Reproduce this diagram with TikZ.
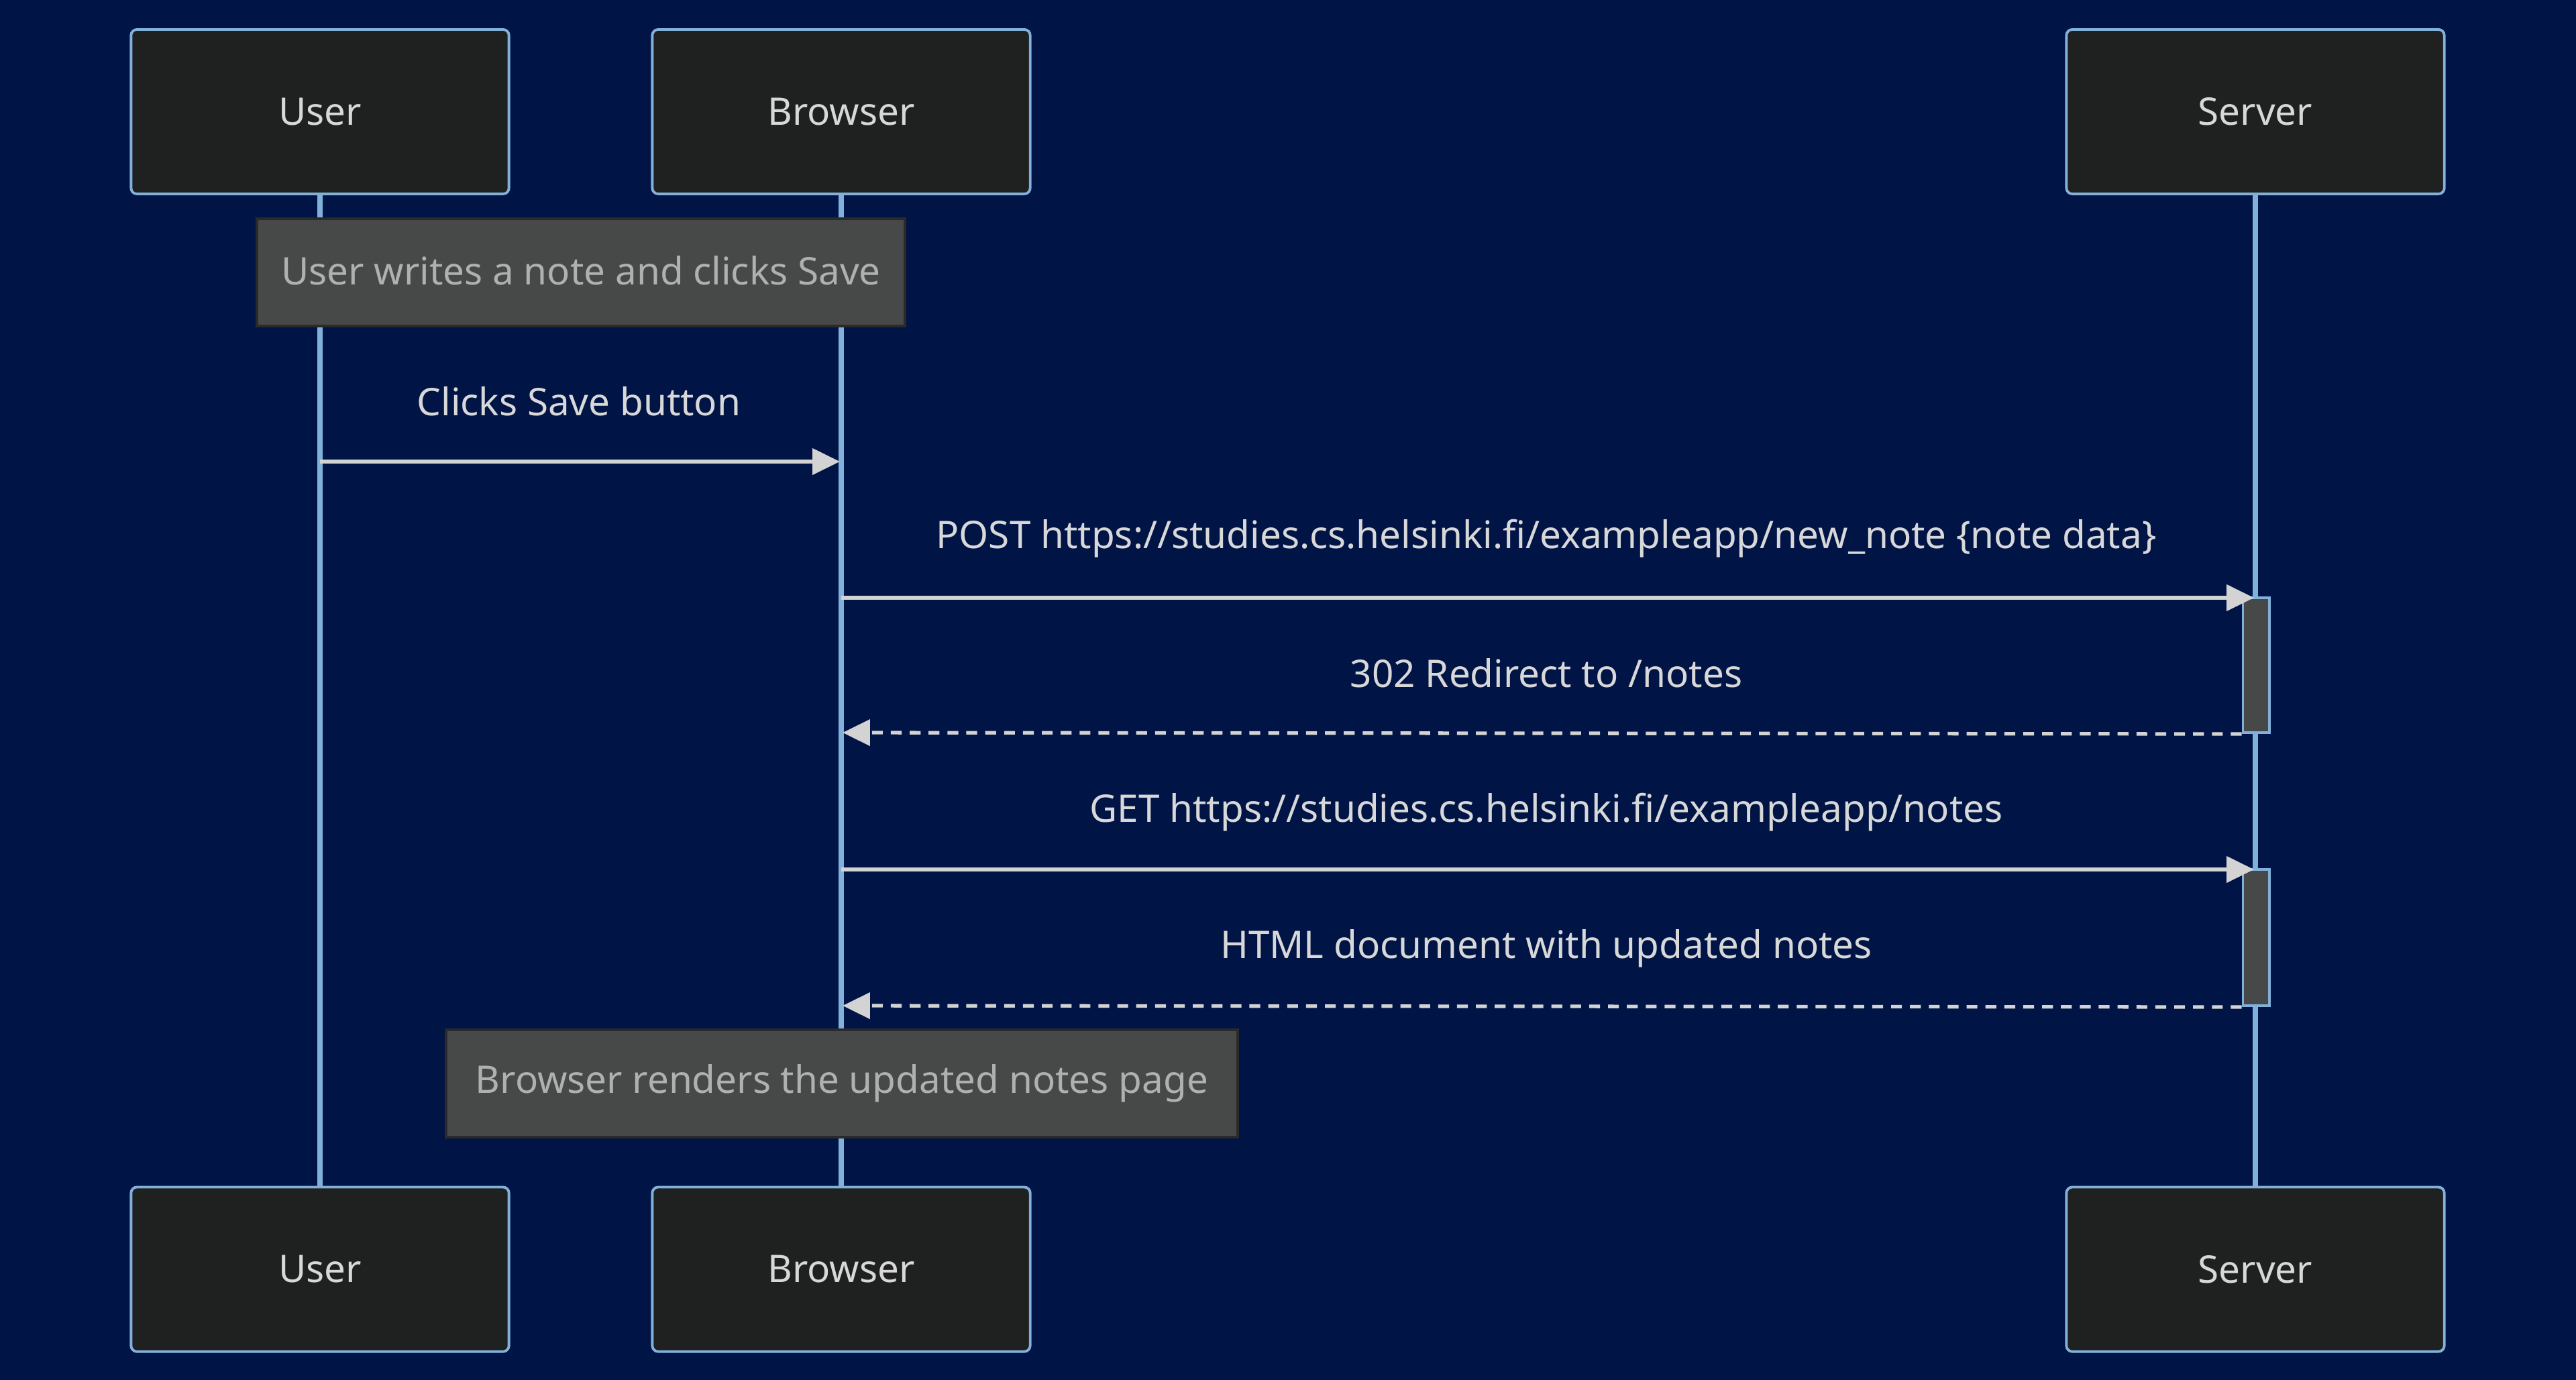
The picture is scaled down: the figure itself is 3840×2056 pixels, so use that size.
\documentclass[tikz,border=0pt]{standalone}
\usepackage{fontspec}
\setmainfont{Noto Sans}
\usetikzlibrary{arrows.meta}
\definecolor{bgc}{RGB}{0,20,70}
\definecolor{actfill}{HTML}{1F2020}
\definecolor{actline}{HTML}{81B1DB}
\definecolor{txt}{HTML}{D8D8D8}
\definecolor{sig}{HTML}{D3D3D3}
\definecolor{notefill}{HTML}{474949}
\definecolor{noteline}{HTML}{2A2A2A}
\definecolor{notetxt}{HTML}{B0B0B0}
\newcommand{\lowr}[1]{\raisebox{-4pt}{#1}}
\newcommand{\highr}[1]{\raisebox{2pt}{#1}}
\tikzset{
  actor/.style={draw=actline, line width=1.1pt, fill=actfill, rounded corners=2.5pt,
    minimum width=5.63cm, minimum height=2.45cm, inner sep=0pt, text=txt,
    font=\fontsize{16.1}{19}\selectfont},
  life/.style={draw=actline, line width=2.3pt},
  notebox/.style={draw=noteline, line width=1.2pt, fill=notefill, inner sep=0pt,
    minimum height=1.6cm, text=notetxt, font=\fontsize{16.1}{19}\selectfont},
  msg/.style={draw=sig, line width=1.5pt, shorten >=0.6pt, -{Triangle[length=11.6pt,width=11pt]}},
  ret/.style={msg, dash pattern=on 4.6pt off 3.4pt},
  lbl/.style={text=txt, font=\fontsize{16.1}{19}\selectfont, inner sep=0pt},
  actv/.style={draw=actline, line width=1.1pt, fill=notefill}
}
\begin{document}
\begin{tikzpicture}[x=0.01cm, y=-0.01cm]
\useasboundingbox (0,0) rectangle (3840,2056);
\fill[bgc] (-20,-20) rectangle (3860,2080);
% participants
\node[actor] (userT) at (477,166.5) {\lowr{User}};
\node[actor] (browT) at (1254,166.5) {\lowr{Browser}};
\node[actor] (servT) at (3362,166.5) {\lowr{Server}};
\node[actor] (userB) at (477,1892) {\lowr{User}};
\node[actor] (browB) at (1254,1892) {\lowr{Browser}};
\node[actor] (servB) at (3362,1892) {\lowr{Server}};
% lifelines
\draw[life] (userT.south) -- (userB.north);
\draw[life] (browT.south) -- (browB.north);
\draw[life] (servT.south) -- (servB.north);
% notes
\node[notebox, minimum width=9.65cm] (note1) at (866,406) {\highr{User writes a note and clicks Save}};
\node[notebox, minimum width=11.8cm] (note2) at (1255,1615) {Browser renders the updated notes page};
% activations
\node[actv, minimum width=0.39cm, minimum height=2.01cm, inner sep=0pt] (act1) at (3363,991.5) {};
\node[actv, minimum width=0.39cm, minimum height=2.03cm, inner sep=0pt] (act2) at (3363,1397.5) {};
% anchor coordinates on lifelines
\coordinate (u1) at (userT.south |- 0,688);
\coordinate (b1) at (browT.south |- 0,688);
\coordinate (b2) at (browT.south |- 0,891);
\coordinate (s2) at (servT.south |- 0,891);
\coordinate (b3) at (browT.south |- 0,1092);
\coordinate (b4) at (browT.south |- 0,1296);
\coordinate (s4) at (servT.south |- 0,1296);
\coordinate (b5) at (browT.south |- 0,1499);
% messages
\draw[msg] (u1) -- (b1);
\node[lbl] (l1) at (863,598) {Clicks Save button};
\draw[msg] (b2) -- (s2);
\node[lbl] (l2) at (2305,803) {POST https://studies.cs.helsinki.fi/exampleapp/new\_note \{note data\}};
\draw[ret] (act1.south west) -- (b3);
\node[lbl] (l3) at (2305,1003) {302 Redirect to /notes};
\draw[msg] (b4) -- (s4);
\node[lbl] (l4) at (2305,1211) {GET https://studies.cs.helsinki.fi/exampleapp/notes};
\draw[ret] (act2.south west) -- (b5);
\node[lbl] (l5) at (2305,1414) {HTML document with updated notes};
\end{tikzpicture}
\end{document}
